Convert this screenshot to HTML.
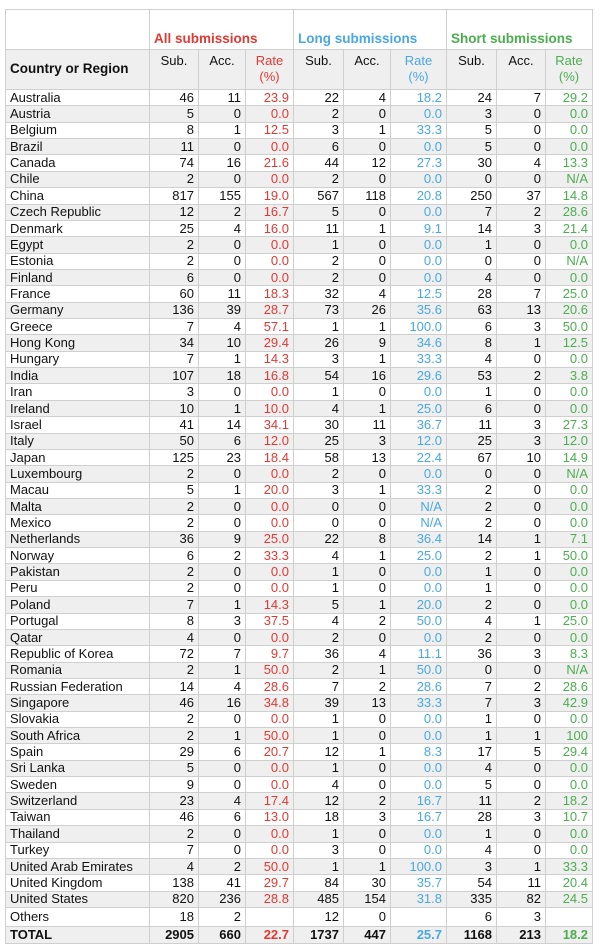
<!DOCTYPE html>
<html><head><meta charset="utf-8">
<style>
html,body{margin:0;padding:0;background:#fff;width:600px;height:950px;overflow:hidden}
table{position:absolute;left:5px;top:9px;border-collapse:collapse;table-layout:fixed;font-family:"Liberation Sans",Arial,sans-serif;font-size:13px;color:#111}
td{border:1px solid #cfcfcf;padding:0 4px;white-space:nowrap;overflow:hidden;line-height:14px}
td.n{text-align:right}
tr.g td{background:#efefef}
.r{color:#e03a33}.b{color:#4aa8e0}.gr{color:#4cae4f}
.h1 td{height:36px;vertical-align:bottom;padding-bottom:3px;font-weight:bold;font-size:13.5px}
.h2 td{height:35px;vertical-align:top;padding-top:3px;padding-bottom:1px;line-height:16px;text-align:center;background:#efefef}
tr.d td{height:15.36px;padding-top:0;padding-bottom:0}
.tot td{font-weight:bold}
</style></head><body>
<table id="t">
<colgroup><col style="width:144px"><col style="width:49px"><col style="width:47px"><col style="width:48px"><col style="width:50px"><col style="width:47px"><col style="width:56px"><col style="width:50px"><col style="width:49px"><col style="width:47px"></colgroup>
<tr class="h1"><td></td><td colspan="3" class="r">All submissions</td><td colspan="3" class="b">Long submissions</td><td colspan="3" class="gr">Short submissions</td></tr>
<tr class="h2"><td style="text-align:left;font-weight:bold;font-size:13.5px;vertical-align:middle;padding-top:0">Country or Region</td><td>Sub.</td><td>Acc.</td><td class="r">Rate<br>(%)</td><td>Sub.</td><td>Acc.</td><td class="b">Rate<br>(%)</td><td>Sub.</td><td>Acc.</td><td class="gr">Rate<br>(%)</td></tr>
</table>
<script>
const countries=["Australia","Austria","Belgium","Brazil","Canada","Chile","China","Czech Republic","Denmark","Egypt","Estonia","Finland","France","Germany","Greece","Hong Kong","Hungary","India","Iran","Ireland","Israel","Italy","Japan","Luxembourg","Macau","Malta","Mexico","Netherlands","Norway","Pakistan","Peru","Poland","Portugal","Qatar","Republic of Korea","Romania","Russian Federation","Singapore","Slovakia","South Africa","Spain","Sri Lanka","Sweden","Switzerland","Taiwan","Thailand","Turkey","United Arab Emirates","United Kingdom","United States"];
const allSub=[46,5,8,11,74,2,817,12,25,2,2,6,60,136,7,34,7,107,3,10,41,50,125,2,5,2,2,36,6,2,2,7,8,4,72,2,14,46,2,2,29,5,9,23,46,2,7,4,138,820];
const allAcc=[11,0,1,0,16,0,155,2,4,0,0,0,11,39,4,10,1,18,0,1,14,6,23,0,1,0,0,9,2,0,0,1,3,0,7,1,4,16,0,1,6,0,0,4,6,0,0,2,41,236];
const allRate=["23.9","0.0","12.5","0.0","21.6","0.0","19.0","16.7","16.0","0.0","0.0","0.0","18.3","28.7","57.1","29.4","14.3","16.8","0.0","10.0","34.1","12.0","18.4","0.0","20.0","0.0","0.0","25.0","33.3","0.0","0.0","14.3","37.5","0.0","9.7","50.0","28.6","34.8","0.0","50.0","20.7","0.0","0.0","17.4","13.0","0.0","0.0","50.0","29.7","28.8"];
const longSub=[22,2,3,6,44,2,567,5,11,1,2,2,32,73,1,26,3,54,1,4,30,25,58,2,3,0,0,22,4,1,1,5,4,2,36,2,7,39,1,1,12,1,4,12,18,1,3,1,84,485];
const longAcc=[4,0,1,0,12,0,118,0,1,0,0,0,4,26,1,9,1,16,0,1,11,3,13,0,1,0,0,8,1,0,0,1,2,0,4,1,2,13,0,0,1,0,0,2,3,0,0,1,30,154];
const longRate=["18.2","0.0","33.3","0.0","27.3","0.0","20.8","0.0","9.1","0.0","0.0","0.0","12.5","35.6","100.0","34.6","33.3","29.6","0.0","25.0","36.7","12.0","22.4","0.0","33.3","N/A","N/A","36.4","25.0","0.0","0.0","20.0","50.0","0.0","11.1","50.0","28.6","33.3","0.0","0.0","8.3","0.0","0.0","16.7","16.7","0.0","0.0","100.0","35.7","31.8"];
const shortSub=[24,3,5,5,30,0,250,7,14,1,0,4,28,63,6,8,4,53,1,6,11,25,67,0,2,2,2,14,2,1,1,2,4,2,36,0,7,7,1,1,17,4,5,11,28,1,4,3,54,335];
const shortAcc=[7,0,0,0,4,0,37,2,3,0,0,0,7,13,3,1,0,2,0,0,3,3,10,0,0,0,0,1,1,0,0,0,1,0,3,0,2,3,0,1,5,0,0,2,3,0,0,1,11,82];
const shortRate=["29.2","0.0","0.0","0.0","13.3","N/A","14.8","28.6","21.4","0.0","N/A","0.0","25.0","20.6","50.0","12.5","0.0","3.8","0.0","0.0","27.3","12.0","14.9","N/A","0.0","0.0","0.0","7.1","50.0","0.0","0.0","0.0","25.0","0.0","8.3","N/A","28.6","42.9","0.0","100","29.4","0.0","0.0","18.2","10.7","0.0","0.0","33.3","20.4","24.5"];
const others=["Others",18,2,"",12,0,"",6,3,""];
const totals=["TOTAL",2905,660,"22.7",1737,447,"25.7",1168,213,"18.2"];
const t=document.getElementById('t');
function addRow(vals,cls,name,h){
  const tr=document.createElement('tr');
  tr.className=cls;
  
  
  vals.forEach((v,i)=>{
    const td=document.createElement('td');
    td.textContent=v;
    let c=i===0?'':'n';
    if(i===3)c+=' r';if(i===6)c+=' b';if(i===9)c+=' gr';
    td.className=c;
    if(h)td.style.height=h+'px';
    tr.appendChild(td);
  });
  t.appendChild(tr);
}
countries.forEach((c,i)=>{
  addRow([c,allSub[i],allAcc[i],allRate[i],longSub[i],longAcc[i],longRate[i],shortSub[i],shortAcc[i],shortRate[i]],'d'+(i%2?' g':''),'row-'+c.toLowerCase().replace(/ /g,'-'));
});
addRow(others,'','row-others',18);
addRow(totals,'tot g','row-total',16);
</script>
</body></html>
